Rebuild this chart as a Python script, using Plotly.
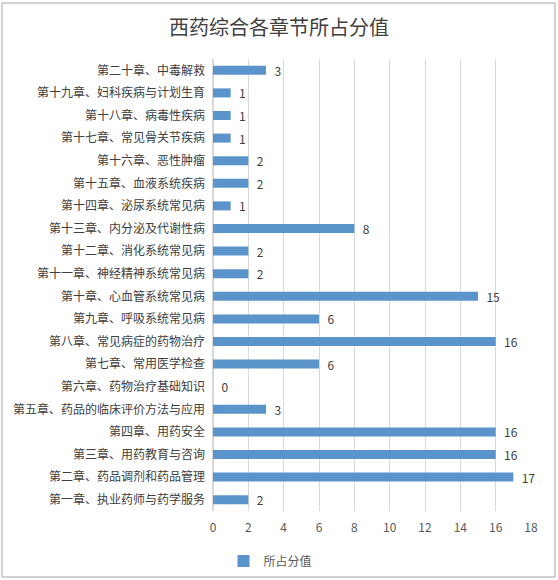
import plotly.graph_objects as go

categories = [
    "第一章、执业药师与药学服务",
    "第二章、药品调剂和药品管理",
    "第三章、用药教育与咨询",
    "第四章、用药安全",
    "第五章、药品的临床评价方法与应用",
    "第六章、药物治疗基础知识",
    "第七章、常用医学检查",
    "第八章、常见病症的药物治疗",
    "第九章、呼吸系统常见病",
    "第十章、心血管系统常见病",
    "第十一章、神经精神系统常见病",
    "第十二章、消化系统常见病",
    "第十三章、内分泌及代谢性病",
    "第十四章、泌尿系统常见病",
    "第十五章、血液系统疾病",
    "第十六章、恶性肿瘤",
    "第十七章、常见骨关节疾病",
    "第十八章、病毒性疾病",
    "第十九章、妇科疾病与计划生育",
    "第二十章、中毒解救",
]
values = [2, 17, 16, 16, 3, 0, 6, 16, 6, 15, 2, 2, 8, 1, 2, 2, 1, 1, 1, 3]
tick_vals = [0, 2, 4, 6, 8, 10, 12, 14, 16, 18]
series_name = "所占分值"
title = "西药综合各章节所占分值"

font_family = "Noto Sans CJK SC, Microsoft YaHei, sans-serif"

fig = go.Figure()
fig.add_trace(go.Bar(
    y=categories,
    x=values,
    orientation="h",
    name=series_name,
    marker=dict(color="#5b94cb", line=dict(width=0)),
    width=0.4,
    text=["\u00a0\u00a0" + str(v) for v in values],
    textposition="outside",
    constraintext="none",
    cliponaxis=False,
    textfont=dict(size=12, color="#404040", family=font_family),
    showlegend=True,
))

fig.update_layout(
    width=558,
    height=580,
    paper_bgcolor="white",
    plot_bgcolor="white",
    margin=dict(l=213, r=27, t=59, b=69, autoexpand=False),
    title=dict(
        text=title,
        x=0.5,
        xanchor="center",
        y=1 - 28 / 580,
        yanchor="middle",
        font=dict(size=20, color="#404040", family=font_family),
    ),
    font=dict(family=font_family, color="#404040"),
    xaxis=dict(
        range=[0, 18],
        tickvals=tick_vals,
        showgrid=True,
        gridcolor="#d9d9d9",
        gridwidth=1,
        zeroline=True,
        zerolinecolor="#d9d9d9",
        showline=False,
        tickfont=dict(size=12, color="#595959"),
        ticks="",
        ticklabelstandoff=8,
        automargin=False,
    ),
    yaxis=dict(
        showgrid=False,
        showline=False,
        ticks="",
        tickfont=dict(size=12, color="#404040"),
        ticklabelstandoff=7,
        automargin=False,
    ),
    legend=dict(
        orientation="h",
        x=0.033,
        xanchor="left",
        y=-50 / 452,
        yanchor="middle",
        font=dict(size=12, color="#595959"),
        itemwidth=30,
    ),
    shapes=[dict(
        type="rect", xref="paper", yref="paper",
        x0=-211 / 318, x1=1 + 24 / 318,
        y0=-66 / 452, y1=1 + 56 / 452,
        line=dict(color="#a6a6a6", width=1),
        fillcolor="rgba(0,0,0,0)",
        layer="below",
    )],
)

fig.write_html(
    "out.html",
    config={"displayModeBar": False},
    post_script="document.body.style.margin='0';",
)
